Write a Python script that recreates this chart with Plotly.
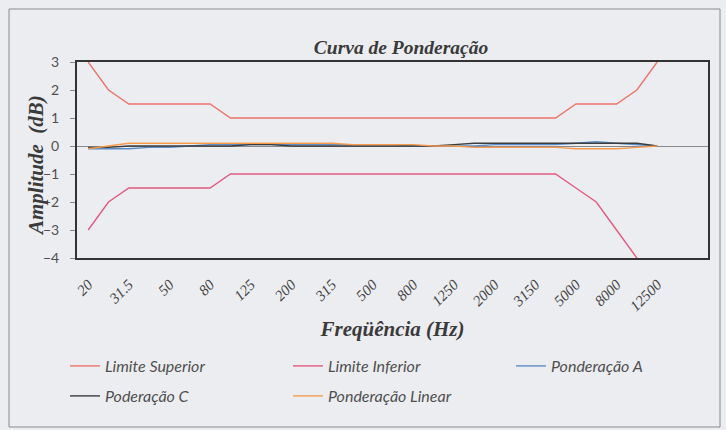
import plotly.graph_objects as go

freqs = ["20", "25", "31.5", "40", "50", "63", "80", "100", "125", "160", "200", "250",
         "315", "400", "500", "630", "800", "1000", "1250", "1600", "2000", "2500",
         "3150", "4000", "5000", "6300", "8000", "10000", "12500"]
tick_freqs = freqs[::2]

limite_superior = [3, 2, 1.5, 1.5, 1.5, 1.5, 1.5, 1, 1, 1, 1, 1, 1, 1, 1, 1, 1, 1, 1, 1,
                   1, 1, 1, 1, 1.5, 1.5, 1.5, 2, 3]
limite_inferior = [-3, -2, -1.5, -1.5, -1.5, -1.5, -1.5, -1, -1, -1, -1, -1, -1, -1, -1, -1,
                   -1, -1, -1, -1, -1, -1, -1, -1, -1.5, -2, -3, -4, -6]
ponderacao_a = [-0.1, -0.1, -0.1, -0.05, -0.05, 0, 0.05, 0.05, 0.05, 0.05, 0.05, 0.05, 0.05,
                0.05, 0.05, 0.05, 0, 0, 0, 0, 0.05, 0.05, 0.05, 0.05, 0.1, 0.15, 0.1, 0.05, 0]
ponderacao_c = [-0.05, -0.05, 0, 0, 0, 0, 0, 0, 0.05, 0.05, 0, 0, 0, 0, 0, 0, 0, 0, 0.05,
                0.1, 0.1, 0.1, 0.1, 0.1, 0.1, 0.1, 0.1, 0.1, 0]
ponderacao_linear = [-0.1, 0, 0.1, 0.1, 0.1, 0.1, 0.1, 0.1, 0.1, 0.1, 0.1, 0.1, 0.1, 0.05,
                     0.05, 0.05, 0.05, 0, 0, -0.05, -0.05, -0.05, -0.05, -0.05, -0.1, -0.1,
                     -0.1, -0.05, 0]

series = [
    ("Limite Superior", limite_superior, "#EC7468", "legend"),
    ("Limite Inferior", limite_inferior, "#E25A7E", "legend2"),
    ("Ponderação A", ponderacao_a, "#5B8DC8", "legend3"),
    ("Poderação C", ponderacao_c, "#3C3C3C", "legend4"),
    ("Ponderação Linear", ponderacao_linear, "#F59A4E", "legend5"),
]

W, H = 726, 430
L, R, T, B = 77, 18, 62, 172
PW, PH = W - L - R, H - T - B
BG = "#ECEDF1"

fig = go.Figure()
for name, vals, color, lg in series:
    fig.add_trace(go.Scatter(x=freqs, y=vals, name=name, mode="lines",
                             line=dict(color=color, width=1.4), legend=lg))

legend_font = dict(family="Lato, Open Sans, sans-serif", size=16, color="#505050", style="italic")
legend_pos = {
    "legend": (65, 366), "legend2": (288, 366), "legend3": (511, 366),
    "legend4": (65, 396), "legend5": (288, 396),
}
legends = {}
for k, (px, py) in legend_pos.items():
    legends[k] = dict(x=px / W, y=1 - py / H, xref="container", yref="container",
                      xanchor="left", yanchor="middle", bgcolor="rgba(0,0,0,0)",
                      font=legend_font, itemwidth=30)

serif_bi = dict(family="Liberation Serif, Times New Roman, serif", color="#3A3A3A",
                weight="bold", style="italic")

fig.update_layout(
    width=W, height=H,
    margin=dict(l=L, r=R, t=T, b=B, autoexpand=False),
    paper_bgcolor=BG, plot_bgcolor=BG,
    showlegend=True,
    title=dict(text="Curva de Ponderação", x=401 / W, xanchor="center",
               y=1 - 47 / H, yanchor="middle", font=dict(size=19.5, **serif_bi)),
    **legends,
)

fig.update_xaxes(
    type="category", categoryorder="array", categoryarray=freqs,
    range=[-0.55, 30.5],
    tickmode="array", tickvals=tick_freqs, ticktext=tick_freqs,
    tickangle=-45, ticks="outside", ticklen=10, tickcolor="rgba(0,0,0,0)",
    tickfont=dict(family="Liberation Serif, Times New Roman, serif", size=15,
                  color="#444444", style="italic"),
    showgrid=False, showline=True, linecolor="#333333", linewidth=2, mirror=True,
    title=dict(text="Freqüência (Hz)", font=dict(size=21, **serif_bi), standoff=8),
)
fig.update_yaxes(
    range=[-4, 3], tickmode="linear", dtick=1, tick0=0,
    ticks="outside", ticklen=5, tickcolor="#888888", ticklabelstandoff=8,
    tickfont=dict(family="Lato, Open Sans, sans-serif", size=14, color="#505050"),
    showgrid=False, zeroline=True, zerolinecolor="#8A8A8A", zerolinewidth=1,
    showline=True, linecolor="#333333", linewidth=2, mirror=True,
)

# y-axis title
fig.add_annotation(text="Amplitude  (dB)", xref="paper", yref="paper",
                   x=(36 - L) / PW, y=(T + PH - 166) / PH, xanchor="center", yanchor="middle",
                   textangle=-90, showarrow=False, font=dict(size=21, **serif_bi))

# outer chart frame
fig.add_shape(type="rect", xref="paper", yref="paper",
              x0=(9 - L) / PW, x1=(720 - L) / PW,
              y0=(T + PH - 427) / PH, y1=(T + PH - 9) / PH,
              line=dict(color="#8A8A8A", width=1), fillcolor="rgba(0,0,0,0)", layer="below")

fig.write_html(
    "out.html",
    config={"displayModeBar": False},
    post_script="document.body.style.margin='0';document.body.style.background='%s';" % BG,
)
